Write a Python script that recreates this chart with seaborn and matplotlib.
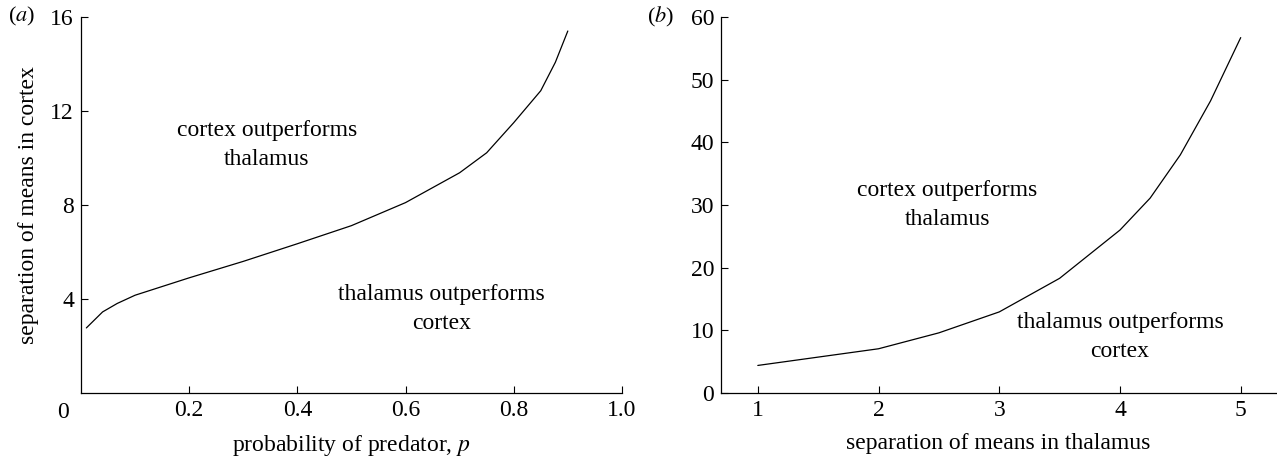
import numpy as np
import matplotlib
matplotlib.use("Agg")
import matplotlib.pyplot as plt
import seaborn as sns
import pandas as pd

# data
prob_predator = [0.01, 0.04, 0.067, 0.10, 0.20, 0.30, 0.40, 0.50, 0.60, 0.70, 0.75, 0.80, 0.85, 0.877, 0.90]
sep_cortex_a = [2.77, 3.45, 3.81, 4.16, 4.90, 5.60, 6.35, 7.12, 8.10, 9.37, 10.22, 11.5, 12.86, 14.07, 15.4]

sep_thalamus = [1.0, 2.0, 2.5, 3.0, 3.5, 4.0, 4.25, 4.5, 4.75, 5.0]
sep_cortex_b = [4.4, 7.06, 9.6, 12.94, 18.3, 26.0, 31.1, 38.0, 46.6, 56.7]

xticks_a = [0.2, 0.4, 0.6, 0.8, 1.0]
xticklabels_a = ["0.2", "0.4", "0.6", "0.8", "1.0"]
yticks_a = [4, 8, 12, 16]
xticks_b = [1, 2, 3, 4, 5]
yticks_b = [0, 10, 20, 30, 40, 50, 60]

df_a = pd.DataFrame({"p": prob_predator, "cortex": sep_cortex_a})
df_b = pd.DataFrame({"thalamus": sep_thalamus, "cortex": sep_cortex_b})

sns.set_theme(style="ticks", rc={"text.color": "black", "axes.labelcolor": "black",
                                 "xtick.color": "black", "ytick.color": "black",
                                 "axes.edgecolor": "black"})
plt.rcParams["font.family"] = ["Liberation Serif", "DejaVu Serif"]
plt.rcParams["mathtext.fontset"] = "stix"
plt.rcParams["xtick.direction"] = "in"
plt.rcParams["ytick.direction"] = "in"

fs = 17
fig = plt.figure(figsize=(12.77, 4.57), dpi=100)
ax1 = fig.add_axes([0.0634, 0.140, 0.4236, 0.823])
ax2 = fig.add_axes([0.5646, 0.140, 0.4344, 0.823])

# panel (a)
sns.lineplot(data=df_a, x="p", y="cortex", ax=ax1, color="black", linewidth=0.9)
ax1.set_xlim(0, 1.0)
ax1.set_ylim(0, 16)
ax1.set_xticks(xticks_a)
ax1.set_xticklabels(xticklabels_a)
ax1.set_yticks(yticks_a)
ax1.text(-0.033, -0.025, "0", transform=ax1.transAxes, ha="center", va="top", fontsize=fs)
ax1.set_xlabel("probability of predator, $p$", fontsize=fs, labelpad=9)
ax1.set_ylabel("separation of means in cortex", fontsize=fs, labelpad=8)
ax1.text(0.344, 10.57, "cortex outperforms\nthalamus", ha="center", va="center", fontsize=fs, linespacing=1.5)
ax1.text(0.666, 3.57, "thalamus outperforms\ncortex", ha="center", va="center", fontsize=fs, linespacing=1.5)
fig.text(0.006, 0.963, "($a$)", fontsize=fs - 1, va="center")

# panel (b)
sns.lineplot(data=df_b, x="thalamus", y="cortex", ax=ax2, color="black", linewidth=0.9)
ax2.set_xlim(0.695, 5.29)
ax2.set_ylim(0, 60)
ax2.set_xticks(xticks_b)
ax2.set_yticks(yticks_b)
ax2.set_xlabel("separation of means in thalamus", fontsize=fs, labelpad=9)
ax2.set_ylabel("")
ax2.text(2.57, 30.0, "cortex outperforms\nthalamus", ha="center", va="center", fontsize=fs, linespacing=1.5)
ax2.text(4.0, 8.9, "thalamus outperforms\ncortex", ha="center", va="center", fontsize=fs, linespacing=1.5)
fig.text(0.507, 0.963, "($b$)", fontsize=fs - 1, va="center")

for ax in (ax1, ax2):
    sns.despine(ax=ax)
    ax.tick_params(labelsize=fs, length=5, width=0.8, pad=5, color="black")
    for s in ("left", "bottom"):
        ax.spines[s].set_linewidth(0.9)
        ax.spines[s].set_color("black")

fig.savefig("out.png", dpi=100, facecolor="white")
